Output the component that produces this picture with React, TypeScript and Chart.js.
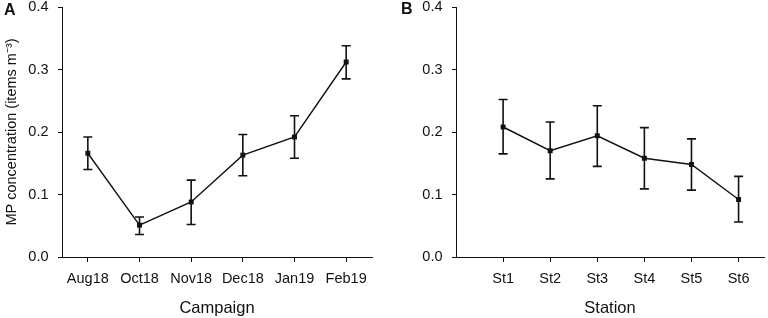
import React, { useEffect, useRef } from 'react';
import { Chart, registerables } from 'chart.js';

Chart.register(...registerables);

const campaigns = ['Aug18', 'Oct18', 'Nov18', 'Dec18', 'Jan19', 'Feb19'];
const campaignMean = [0.166, 0.051, 0.088, 0.163, 0.192, 0.312];
const campaignLow = [0.140, 0.036, 0.052, 0.130, 0.158, 0.285];
const campaignHigh = [0.192, 0.064, 0.123, 0.196, 0.226, 0.338];

const stations = ['St1', 'St2', 'St3', 'St4', 'St5', 'St6'];
const stationPos = [1, 2, 3, 4, 5, 6];
const stationMean = [0.208, 0.170, 0.194, 0.158, 0.148, 0.092];
const stationLow = [0.165, 0.125, 0.145, 0.109, 0.107, 0.056];
const stationHigh = [0.252, 0.216, 0.242, 0.207, 0.189, 0.129];

const yTicks = [0, 0.1, 0.2, 0.3, 0.4];

const FONT = "'Liberation Sans', Arial, sans-serif";
const INK = '#111';

const errorBarPlugin = {
  id: 'errorBars',
  beforeDatasetsDraw(chart: any, _args: any, opts: any) {
    const { ctx } = chart;
    const ys = chart.scales.y;
    const meta = chart.getDatasetMeta(0);
    ctx.save();
    ctx.strokeStyle = INK;
    ctx.lineWidth = 1.6;
    meta.data.forEach((pt: any, i: number) => {
      const x = pt.x;
      const yl = ys.getPixelForValue(opts.low[i]);
      const yh = ys.getPixelForValue(opts.high[i]);
      const cap = 4.5;
      ctx.beginPath();
      ctx.moveTo(x, yl);
      ctx.lineTo(x, yh);
      ctx.moveTo(x - cap, yl);
      ctx.lineTo(x + cap, yl);
      ctx.moveTo(x - cap, yh);
      ctx.lineTo(x + cap, yh);
      ctx.stroke();
    });
    ctx.restore();
  },
};

function yScale(width: number, withTitle: boolean) {
  return {
    type: 'linear',
    min: 0,
    max: 0.4,
    afterBuildTicks: (s: any) => {
      s.ticks = yTicks.map((v) => ({ value: v }));
    },
    afterFit: (s: any) => {
      s.width = width;
      s.paddingTop = 0;
      s.paddingBottom = 0;
    },
    ticks: {
      padding: 9.5,
      color: INK,
      font: { family: FONT, size: 14.5 },
      callback: (v: any) => Number(v).toFixed(1),
    },
    grid: { drawOnChartArea: false, drawTicks: true, tickLength: 4, color: INK, lineWidth: 1 },
    border: { display: true, color: INK, width: 1 },
    title: {
      display: withTitle,
      text: 'MP concentration (items m\u207B\u00B3)',
      color: INK,
      font: { family: FONT, size: 14.5 },
      padding: { top: 3, bottom: 0 },
    },
  };
}

function xCommon(title: string) {
  return {
    afterFit: (s: any) => {
      s.height = 61;
      s.paddingLeft = 0;
      s.paddingRight = 0;
    },
    grid: { drawOnChartArea: false, drawTicks: true, tickLength: 5, color: INK, lineWidth: 1 },
    border: { display: true, color: INK, width: 1 },
    title: {
      display: true,
      text: title,
      color: INK,
      font: { family: FONT, size: 16.5 },
      padding: { top: 0, bottom: 0 },
    },
  };
}

const datasetStyle = {
  borderColor: INK,
  borderWidth: 1.4,
  backgroundColor: INK,
  pointStyle: 'rect',
  pointRadius: 3.5,
  pointBorderWidth: 0,
  pointBackgroundColor: INK,
  tension: 0,
  fill: false,
};

function ChartA() {
  const ref = useRef<HTMLCanvasElement>(null);
  useEffect(() => {
    if (!ref.current) return;
    const c = new Chart(ref.current, {
      type: 'line',
      data: {
        labels: campaigns,
        datasets: [{ data: campaignMean, ...datasetStyle } as any],
      },
      options: {
        animation: false,
        responsive: false,
        layout: { padding: { top: 7, right: 12, left: 0, bottom: 0 } },
        plugins: {
          legend: { display: false },
          tooltip: { enabled: false },
          errorBars: { low: campaignLow, high: campaignHigh },
        } as any,
        scales: {
          x: {
            type: 'category',
            offset: true,
            ...xCommon('Campaign'),
            ticks: {
              padding: 8,
              color: INK,
              autoSkip: false,
              maxRotation: 0,
              font: { family: FONT, size: 14.5 },
            },
          } as any,
          y: yScale(62, true) as any,
        },
      },
      plugins: [errorBarPlugin as any],
    });
    return () => c.destroy();
  }, []);
  return <canvas ref={ref} width={384} height={318} />;
}

function ChartB() {
  const ref = useRef<HTMLCanvasElement>(null);
  useEffect(() => {
    if (!ref.current) return;
    const c = new Chart(ref.current, {
      type: 'line',
      data: {
        datasets: [
          {
            data: stationPos.map((x, i) => ({ x, y: stationMean[i] })),
            ...datasetStyle,
          } as any,
        ],
      },
      options: {
        animation: false,
        responsive: false,
        layout: { padding: { top: 7, right: 0, left: 0, bottom: 0 } },
        plugins: {
          legend: { display: false },
          tooltip: { enabled: false },
          errorBars: { low: stationLow, high: stationHigh },
        } as any,
        scales: {
          x: {
            type: 'linear',
            min: 0,
            max: 6.54,
            afterBuildTicks: (s: any) => {
              s.ticks = stationPos.map((v) => ({ value: v }));
            },
            ...xCommon('Station'),
            ticks: {
              padding: 8,
              color: INK,
              autoSkip: false,
              maxRotation: 0,
              font: { family: FONT, size: 14.5 },
              callback: (_v: any, i: number) => stations[i],
            },
          } as any,
          y: yScale(72, false) as any,
        },
      },
      plugins: [errorBarPlugin as any],
    });
    return () => c.destroy();
  }, []);
  return <canvas ref={ref} width={384} height={318} />;
}

const panelLabel: React.CSSProperties = {
  position: 'absolute',
  fontFamily: FONT,
  fontWeight: 'bold',
  fontSize: 16,
  lineHeight: '16px',
  color: INK,
};

export default function App() {
  return (
    <div style={{ position: 'fixed', left: 0, top: 0, width: 768, height: 318, background: '#fff' }}>
      <div style={{ position: 'absolute', left: 0, top: 0, width: 384, height: 318 }}>
        <ChartA />
      </div>
      <div style={{ position: 'absolute', left: 384, top: 0, width: 384, height: 318 }}>
        <ChartB />
      </div>
      <div style={{ ...panelLabel, left: 4, top: 2 }}>A</div>
      <div style={{ ...panelLabel, left: 401, top: 1 }}>B</div>
    </div>
  );
}
